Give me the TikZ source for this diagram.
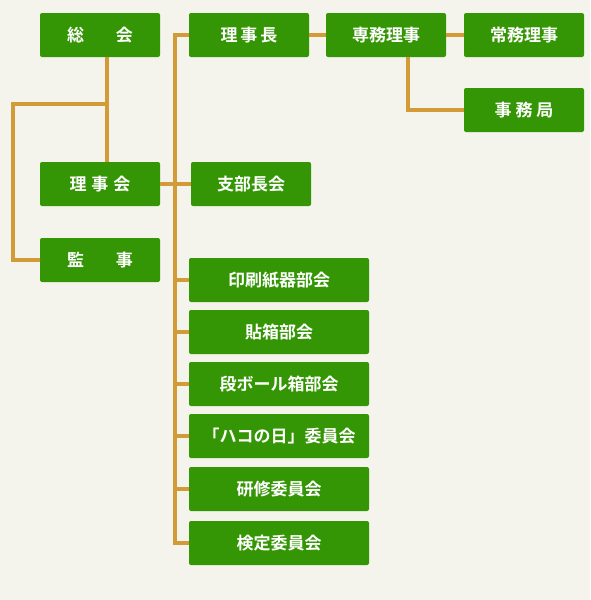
\documentclass[tikz,border=0pt]{standalone}
\usepackage{fontspec}
\newfontfamily\jpfont{Noto Sans CJK JP}[BoldFont={Noto Sans CJK JP Bold}]
\usetikzlibrary{positioning}
\definecolor{bggray}{RGB}{244,243,236}
\definecolor{boxgreen}{RGB}{52,150,4}
\definecolor{linkgold}{RGB}{210,155,55}

\begin{document}
\begin{tikzpicture}[
    x=1pt, y=-1pt,
    node distance=7.6pt,
    every node/.style={font=\jpfont\bfseries\fontsize{17}{17}\selectfont, text=white},
    unit/.style={fill=boxgreen, rounded corners=2pt, minimum width=120pt, minimum height=44pt, inner sep=0pt},
    committee/.style={unit, minimum width=180pt},
    link/.style={draw=linkgold, line width=4pt}
]
\fill[bggray] (0,0) rectangle (590,600);
\useasboundingbox (0,0) rectangle (590,600);
% left column
\node[unit] (sokai) at (100,35) {総\hspace{32pt}会};
\node[unit] (rijikai) at (100,184) {理\hspace{5pt}事\hspace{5pt}会};
\node[unit] (kanji) at (100,260) {監\hspace{32pt}事};
% top row
\node[unit] (richo) at (249,35) {理\hspace{3pt}事\hspace{3pt}長};
\node[unit] (senmu) at (386,35) {専務理事};
\node[unit] (jomu) at (524,35) {常務理事};
\node[unit] (jimu) at (524,110) {事\hspace{4pt}務\hspace{4pt}局};
\node[unit] (shibu) at (251,184) {支部長会};
% committees
\node[committee] (insatsu) at (279,280) {印刷紙器部会};
\node[committee, below=of insatsu] (haribako) {貼箱部会};
\node[committee, below=of haribako] (danboru) {段ボール箱部会};
\node[committee, below=of danboru] (hakonohi) {「ハコの日」委員会};
\node[committee, below=8.6pt of hakonohi] (kenshu) {研修委員会};
\node[committee, below=9.6pt of kenshu] (kentei) {検定委員会};
\coordinate (branch) at (107,104);
\coordinate (kanjiturn) at (13,104);
\coordinate (trunk) at (175,0);
\coordinate (jimuturn) at (408,0);
% links
\draw[link] (sokai.south -| branch) -- (rijikai.north -| branch);
\draw[link] (branch) -- (kanjiturn) |- (kanji.west);
\draw[link] (rijikai.east) -- (shibu.west);
\draw[link] (richo.west) -| (kentei.west -| trunk) -- (kentei.west);
\foreach \c in {insatsu,haribako,danboru,hakonohi,kenshu}
    \draw[link] (\c.west -| trunk) -- (\c.west);
\draw[link] (richo.east) -- (senmu.west);
\draw[link] (senmu.east) -- (jomu.west);
\draw[link] (senmu.south -| jimuturn) |- (jimu.west);
\end{tikzpicture}
\end{document}
